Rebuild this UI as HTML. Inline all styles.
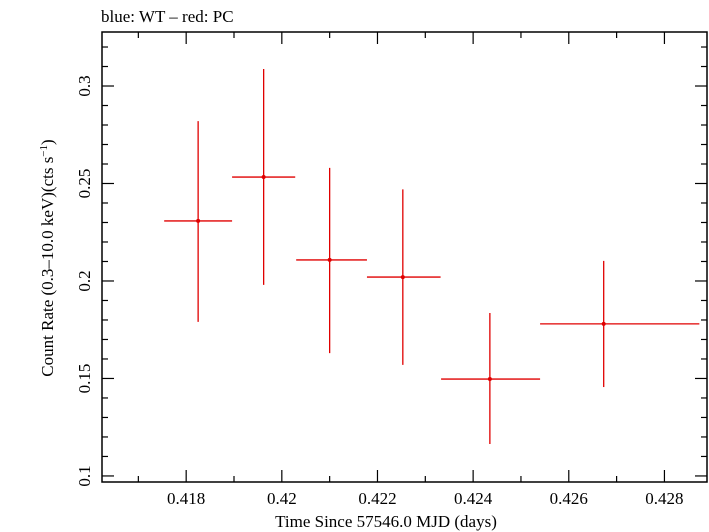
<!DOCTYPE html>
<html><head><meta charset="utf-8"><style>
html,body{margin:0;padding:0;background:#fff;}
svg{display:block;font-family:"Liberation Serif",serif;}
</style></head><body>
<svg id="chart" width="709" height="532" viewBox="0 0 709 532" xmlns="http://www.w3.org/2000/svg">
<text x="101" y="22" font-size="17">blue: WT – red: PC</text>
<text x="386" y="527" font-size="17" text-anchor="middle">Time Since 57546.0 MJD (days)</text>
<text transform="translate(53,258) rotate(-90)" font-size="17" text-anchor="middle">Count Rate (0.3–10.0 keV)(cts s<tspan font-size="11" dy="-6">−1</tspan><tspan dy="6">)</tspan></text>
<g id="axes"></g>
<g id="series"></g>
<rect x="102" y="32" width="605" height="450" fill="none" stroke="#000" stroke-width="1.5"/>
</svg>
<script>
const times = [0.41825, 0.41962, 0.42100, 0.42253, 0.42435, 0.42673];
const timeErrLo = [0.00071, 0.00066, 0.00070, 0.00075, 0.00102, 0.00133];
const timeErrHi = [0.00071, 0.00066, 0.00078, 0.00079, 0.00105, 0.00200];
const rates = [0.2308, 0.2533, 0.2108, 0.2020, 0.1497, 0.1780];
const rateErrHi = [0.0512, 0.0554, 0.0472, 0.0450, 0.0339, 0.0323];
const rateErrLo = [0.0518, 0.0553, 0.0478, 0.0450, 0.0333, 0.0324];
const xTickLabels = ["0.418","0.42","0.422","0.424","0.426","0.428"];
const yTickLabels = ["0.1","0.15","0.2","0.25","0.3"];

const L=102,R=707,T=32,B=482;
const xMin=0.41624,xMax=0.42889,yMin=0.0969,yMax=0.3277;
const sx=v=>L+(v-xMin)/(xMax-xMin)*(R-L);
const sy=v=>B-(v-yMin)/(yMax-yMin)*(B-T);
const NS="http://www.w3.org/2000/svg";
const axes=document.getElementById('axes'), series=document.getElementById('series');
function line(p,x1,y1,x2,y2,c,w){const e=document.createElementNS(NS,'line');e.setAttribute('x1',x1);e.setAttribute('y1',y1);e.setAttribute('x2',x2);e.setAttribute('y2',y2);e.setAttribute('stroke',c);e.setAttribute('stroke-width',w);p.appendChild(e);return e;}
// x ticks
for(let k=417;k<=428;k++){const v=k/1000,x=sx(v),maj=k%2===0,len=maj?12:6;
 const a=line(axes,x,B,x,B-len,'#000',1.2);
 
 
 const b=line(axes,x,T,x,T+len,'#000',1.2);
 
 }
xTickLabels.forEach(s=>{const t=document.createElementNS(NS,'text');t.setAttribute('x',sx(parseFloat(s)));t.setAttribute('y',504);t.setAttribute('font-size','17');t.setAttribute('text-anchor','middle');t.textContent=s;
 
 
 axes.appendChild(t);});
// y ticks
for(let k=10;k<=32;k++){const v=k/100,y=sy(v),maj=k%5===0,len=maj?12:6;
 const a=line(axes,L,y,L+len,y,'#000',1.2);
 
 
 const b=line(axes,R,y,R-len,y,'#000',1.2);
 
 }
yTickLabels.forEach(s=>{const y=sy(parseFloat(s));const t=document.createElementNS(NS,'text');t.setAttribute('transform',`translate(90,${y}) rotate(-90)`);t.setAttribute('font-size','17');t.setAttribute('text-anchor','middle');t.textContent=s;
 
 
 axes.appendChild(t);});
// data
times.forEach((tv,i)=>{const x=sx(tv),y=sy(rates[i]);
 const h=line(series,sx(tv-timeErrLo[i]),y,sx(tv+timeErrHi[i]),y,'#e00000',1.3);
 
 
 const v=line(series,x,sy(rates[i]+rateErrHi[i]),x,sy(rates[i]-rateErrLo[i]),'#e00000',1.3);
 
 
 const c=document.createElementNS(NS,'circle');c.setAttribute('cx',x);c.setAttribute('cy',y);c.setAttribute('r',2);c.setAttribute('fill','#e00000');
 
 
 series.appendChild(c);});
</script>
</body></html>
